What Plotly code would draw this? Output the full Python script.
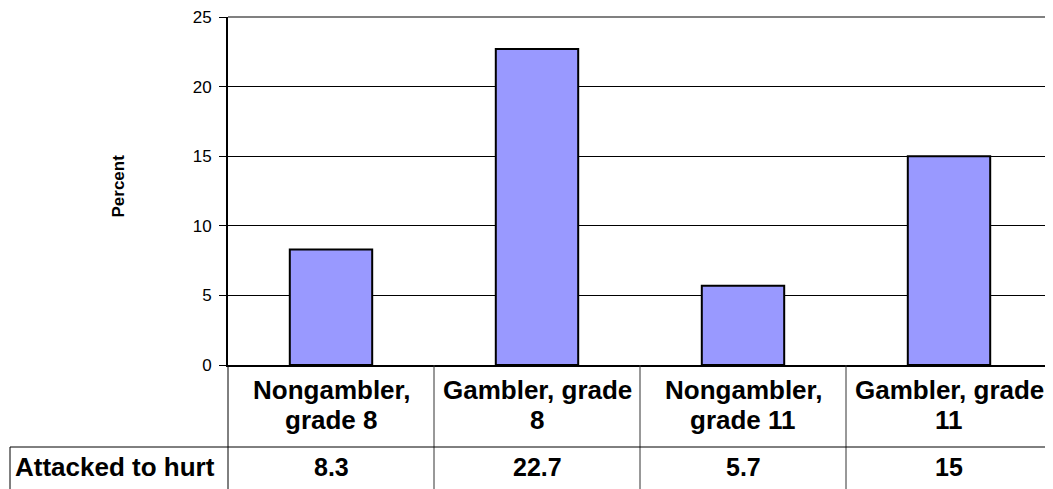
import plotly.graph_objects as go

categories = ["Nongambler,<br>grade 8", "Gambler, grade<br>8", "Nongambler,<br>grade 11", "Gambler, grade<br>11"]
values = [8.3, 22.7, 5.7, 15]
value_labels = ["8.3", "22.7", "5.7", "15"]
series_name = "Attacked to hurt"
y_ticks = [0, 5, 10, 15, 20, 25]

# page has an 8px body margin; figure sized to fit the 1053x489 window
OFF = 8
W, H = 1045, 481
L, R, T, B = 220, 1, 9, 124
ph = H - T - B
pw = W - L - R

def py(p):  # page pixel y -> paper y
    return (H - B - (p - OFF)) / ph

def px(p):  # page pixel x -> paper x
    return (p - OFF - L) / pw

fig = go.Figure()
fig.add_trace(go.Bar(
    x=list(range(len(values))), y=values, width=0.4,
    marker=dict(color="#9999FF", line=dict(color="#000000", width=2)),
    name=series_name, showlegend=False, hoverinfo="y"
))

font = "Liberation Sans, Arial, sans-serif"
shapes = []
shapes.append(dict(type="line", xref="paper", yref="paper", x0=0, x1=1, y0=1, y1=1, line=dict(color="#808080", width=2)))
shapes.append(dict(type="line", xref="paper", yref="paper", x0=1, x1=1, y0=0, y1=1, line=dict(color="#808080", width=2)))
shapes.append(dict(type="line", xref="paper", yref="paper", x0=0, x1=0, y0=py(365), y1=py(495), line=dict(color="#000000", width=1)))
for i in range(len(values) - 1):
    shapes.append(dict(type="line", xref="x", yref="paper", x0=i + 0.5, x1=i + 0.5, y0=py(365), y1=py(495), line=dict(color="#333333", width=1)))
shapes.append(dict(type="line", xref="paper", yref="paper", x0=px(10), x1=1, y0=py(447), y1=py(447), line=dict(color="#000000", width=1)))
shapes.append(dict(type="line", xref="paper", yref="paper", x0=px(10), x1=px(10), y0=py(447), y1=py(495), line=dict(color="#000000", width=1)))

annotations = []
line_centers = [407, 437]
for i, c in enumerate(categories):
    for j, part in enumerate(c.split("<br>")):
        annotations.append(dict(x=i, xref="x", y=py(line_centers[j]), yref="paper", text="<b>%s</b>" % part,
                                showarrow=False, font=dict(family=font, size=26, color="#000")))
for i, v in enumerate(value_labels):
    annotations.append(dict(x=i, xref="x", y=py(483), yref="paper", text="<b>%s</b>" % v, showarrow=False,
                            font=dict(family=font, size=25, color="#000")))
annotations.append(dict(x=px(13), xref="paper", xanchor="left", y=py(484), yref="paper", text="<b>%s</b>" % series_name,
                        showarrow=False, font=dict(family=font, size=26, color="#000")))
annotations.append(dict(x=px(106), xref="paper", y=py(186), yref="paper", text="<b>Percent</b>", textangle=-90,
                        showarrow=False, font=dict(family=font, size=17, color="#000")))

fig.update_layout(
    width=W, height=H, margin=dict(l=L, r=R, t=T, b=B),
    paper_bgcolor="white", plot_bgcolor="white",
    xaxis=dict(range=[-0.5, len(values) - 0.5], showticklabels=False, showgrid=False, zeroline=False,
               showline=True, linecolor="#000", linewidth=2, ticks=""),
    yaxis=dict(range=[0, 25], tickvals=y_ticks, showgrid=True, gridcolor="#000", gridwidth=1,
               zeroline=False, showline=True, linecolor="#000", linewidth=2, ticks="outside", ticklen=7,
               tickcolor="#000", ticklabelstandoff=4, ticklabeloverflow="allow",
               tickfont=dict(family=font, size=17, color="#000")),
    shapes=shapes, annotations=annotations,
)
fig.write_html("out.html")
